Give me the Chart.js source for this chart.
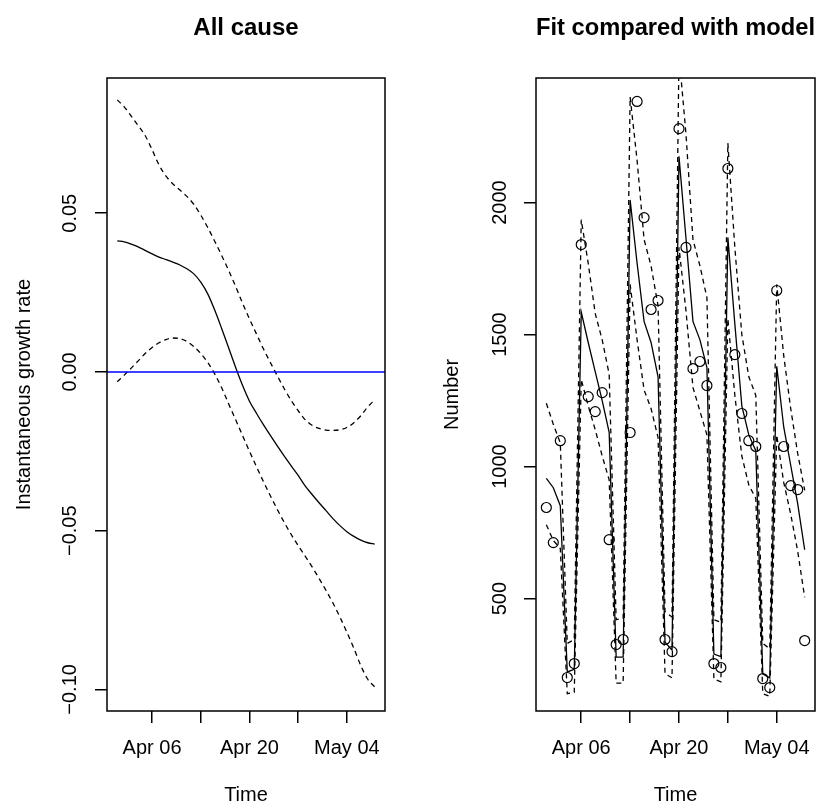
<!DOCTYPE html>
<html>
<head>
<meta charset="utf-8">
<script src="https://cdn.jsdelivr.net/npm/chart.js@4.4.1/dist/chart.umd.min.js"></script>
<style>
  html, body { margin: 0; padding: 0; background: #fff; }
  #wrap { position: relative; width: 818px; height: 805px; }
  canvas { position: absolute; top: 0; }
  #left { left: 0; }
  #right { left: 409px; }
</style>
</head>
<body>
<div id="wrap">
  <canvas id="left" width="409" height="805"></canvas>
  <canvas id="right" width="409" height="805"></canvas>
</div>
<script>
// days, Apr 01 .. May 08
const dates = [
  "Apr 01", "Apr 02", "Apr 03", "Apr 04", "Apr 05", "Apr 06", "Apr 07", "Apr 08", "Apr 09", "Apr 10",
  "Apr 11", "Apr 12", "Apr 13", "Apr 14", "Apr 15", "Apr 16", "Apr 17", "Apr 18", "Apr 19", "Apr 20",
  "Apr 21", "Apr 22", "Apr 23", "Apr 24", "Apr 25", "Apr 26", "Apr 27", "Apr 28", "Apr 29", "Apr 30",
  "May 01", "May 02", "May 03", "May 04", "May 05", "May 06", "May 07", "May 08"
];
const xTickDays = [5, 12, 19, 26, 33];
const xTickLabels = ["Apr 06", "", "Apr 20", "", "May 04"];

// left panel: instantaneous growth rate
const growthFit = [
  0.0413, 0.0410, 0.0403, 0.0394, 0.0383, 0.0372, 0.0362, 0.0354, 0.0346, 0.0337,
  0.0325, 0.0309, 0.0283, 0.0246, 0.0195, 0.0137, 0.0076, 0.0015, -0.0042, -0.0092,
  -0.0130, -0.0166, -0.0200, -0.0233, -0.0265, -0.0296, -0.0326, -0.0359, -0.0386, -0.0412,
  -0.0437, -0.0462, -0.0484, -0.0503, -0.0518, -0.0530, -0.0538, -0.0542
];
const growthUpper = [
  0.0857, 0.0835, 0.0806, 0.0776, 0.0745, 0.0700, 0.0652, 0.0617, 0.0592, 0.0573,
  0.0553, 0.0528, 0.0494, 0.0455, 0.0412, 0.0367, 0.0320, 0.0270, 0.0217, 0.0167,
  0.0120, 0.0073, 0.0030, -0.0012, -0.0053, -0.0090, -0.0122, -0.0150, -0.0168, -0.0178,
  -0.0183, -0.0184, -0.0182, -0.0175, -0.0160, -0.0138, -0.0110, -0.0088
];
const growthLower = [
  -0.0031, -0.0010, 0.0012, 0.0035, 0.0058, 0.0077, 0.0092, 0.0102, 0.0107, 0.0105,
  0.0096, 0.0080, 0.0058, 0.0030, -0.0006, -0.0050, -0.0100, -0.0150, -0.0200, -0.0250,
  -0.0298, -0.0345, -0.0390, -0.0433, -0.0474, -0.0512, -0.0547, -0.0580, -0.0614, -0.0650,
  -0.0688, -0.0728, -0.0772, -0.0820, -0.0870, -0.0925, -0.0968, -0.0992
];
const growthTicks = [-0.10, -0.05, 0, 0.05];
const growthZero = 0;

// right panel: observed counts and model fit
const observed = [
  845, 712, 1098, 201, 254, 1841, 1265, 1208, 1280, 723,
  326, 345, 1129, 2383, 1943, 1595, 1629, 345, 299, 2280,
  1830, 1371, 1398, 1307, 254, 239, 2129, 1424, 1201, 1098,
  1076, 197, 163, 1667, 1076, 928, 913, 341
];
const modelFit = [
  955, 920, 852, 222, 232, 1585, 1470, 1360, 1250, 1130,
  278, 278, 2010, 1770, 1550, 1470, 1340, 335, 305, 2175,
  1865, 1550, 1480, 1375, 290, 280, 1868, 1540, 1230, 1120,
  1060, 215, 200, 1380, 1150, 1005, 860, 685
];
const modelUpper = [
  1240, 1160, 1090, 330, 345, 1935, 1770, 1580, 1480, 1350,
  420, 425, 2400, 2160, 1860, 1760, 1610, 450, 430, 2560,
  2260, 1860, 1760, 1640, 420, 410, 2225, 1830, 1500, 1340,
  1270, 330, 310, 1690, 1420, 1220, 1050, 910
];
const modelLower = [
  780, 720, 690, 140, 145, 1330, 1230, 1140, 1040, 950,
  180, 180, 1690, 1480, 1290, 1220, 1110, 215, 200, 1830,
  1590, 1300, 1210, 1120, 195, 185, 1560, 1270, 1040, 930,
  880, 140, 130, 1120, 940, 820, 680, 505
];
const countTicks = [500, 1000, 1500, 2000];

Chart.defaults.font.family = "'Liberation Sans', Arial, Helvetica, sans-serif";
Chart.defaults.color = "#000";
Chart.defaults.animation = false;

const xMin = -1.48, xMax = 38.48;

function pts(arr) {
  return dates.map((d, i) => ({ x: i, y: arr[i] }));
}

function lineSet(arr, dashed, smooth) {
  return {
    data: pts(arr),
    borderColor: "#000",
    borderWidth: 1.3,
    borderDash: dashed ? [5, 4] : [],
    pointRadius: 0,
    tension: smooth ? 0.4 : 0,
    cubicInterpolationMode: smooth ? "monotone" : "default",
    fill: false
  };
}

// box round the plot region, like R's box()
const boxPlugin = {
  id: "box",
  afterDraw(chart) {
    const { ctx, chartArea: a } = chart;
    ctx.save();
    ctx.strokeStyle = "#000";
    ctx.lineWidth = 1.5;
    ctx.strokeRect(a.left, a.top, a.right - a.left, a.bottom - a.top);
    ctx.restore();
  }
};

// horizontal reference line (abline h=0)
const hlinePlugin = {
  id: "hline",
  afterDatasetsDraw(chart, args, opts) {
    if (opts.value === undefined) return;
    const { ctx, chartArea: a } = chart;
    const y = chart.scales.y.getPixelForValue(opts.value);
    ctx.save();
    ctx.strokeStyle = opts.color;
    ctx.lineWidth = 1.5;
    ctx.beginPath();
    ctx.moveTo(a.left, y);
    ctx.lineTo(a.right, y);
    ctx.stroke();
    ctx.restore();
  }
};

function makeOptions(cfg) {
  return {
    responsive: false,
    animation: false,
    layout: { autoPadding: false, padding: { left: 0, right: cfg.padRight, top: 0, bottom: 0 } },
    plugins: {
      legend: { display: false },
      tooltip: { enabled: false },
      title: {
        display: true,
        text: cfg.title,
        fullSize: false,
        color: "#000",
        font: { size: 24, weight: "bold", lineHeight: 1 },
        padding: { top: 16, bottom: 38 }
      },
      hline: cfg.hline || {}
    },
    scales: {
      x: {
        type: "linear",
        min: xMin,
        max: xMax,
        afterBuildTicks: s => { s.ticks = xTickDays.map(v => ({ value: v })); },
        afterFit: s => { s.height = 94; s.paddingLeft = 0; s.paddingRight = 0; },
        ticks: {
          font: { size: 20 },
          padding: 13,
          autoSkip: false,
          maxRotation: 0,
          callback: (v, i) => xTickLabels[i]
        },
        grid: { drawOnChartArea: false, drawTicks: true, tickLength: 12, color: "#000", lineWidth: 1.5 },
        border: { display: false },
        title: { display: true, text: "Time", color: "#000", font: { size: 20, lineHeight: 1 }, padding: { top: 0, bottom: 0 } }
      },
      y: {
        type: "linear",
        min: cfg.yMin,
        max: cfg.yMax,
        afterBuildTicks: s => { s.ticks = cfg.yTicks.map(v => ({ value: v })); },
        afterFit: s => { s.width = cfg.yWidth; s.paddingTop = 0; s.paddingBottom = 0; },
        ticks: {
          font: { size: 20 },
          padding: cfg.yPad,
          minRotation: 90,
          maxRotation: 90,
          crossAlign: "center",
          callback: cfg.fmt
        },
        grid: { drawOnChartArea: false, drawTicks: true, tickLength: 12, color: "#000", lineWidth: 1.5 },
        border: { display: false },
        title: { display: true, text: cfg.yTitle, color: "#000", font: { size: 20, lineHeight: 1 }, padding: { top: cfg.yTitlePad, bottom: 0 } }
      }
    }
  };
}

new Chart(document.getElementById("left").getContext("2d"), {
  type: "line",
  data: {
    datasets: [
      lineSet(growthUpper, true, true),
      lineSet(growthFit, false, true),
      lineSet(growthLower, true, true)
    ]
  },
  options: makeOptions({
    title: "All cause",
    padRight: 24,
    yMin: -0.1068,
    yMax: 0.0926,
    yTicks: growthTicks,
    yWidth: 107,
    yPad: -1,
    yTitle: "Instantaneous growth rate",
    yTitlePad: 14,
    fmt: v => v.toFixed(2).replace("-", "\u2212"),
    hline: { value: growthZero, color: "#0000ff" }
  }),
  plugins: [boxPlugin, hlinePlugin]
});

new Chart(document.getElementById("right").getContext("2d"), {
  type: "line",
  data: {
    datasets: [
      {
        data: pts(observed),
        showLine: false,
        pointRadius: 5,
        pointStyle: "circle",
        pointBorderColor: "#000",
        pointBackgroundColor: "rgba(0,0,0,0)",
        pointBorderWidth: 1.2
      },
      lineSet(modelFit, false, false),
      lineSet(modelUpper, true, false),
      lineSet(modelLower, true, false)
    ]
  },
  options: makeOptions({
    title: "Fit compared with model",
    padRight: 3,
    yMin: 74.2,
    yMax: 2471.8,
    yTicks: countTicks,
    yWidth: 127,
    yPad: 1,
    yTitle: "Number",
    yTitlePad: 33,
    fmt: v => String(v)
  }),
  plugins: [boxPlugin]
});
</script>
</body>
</html>
